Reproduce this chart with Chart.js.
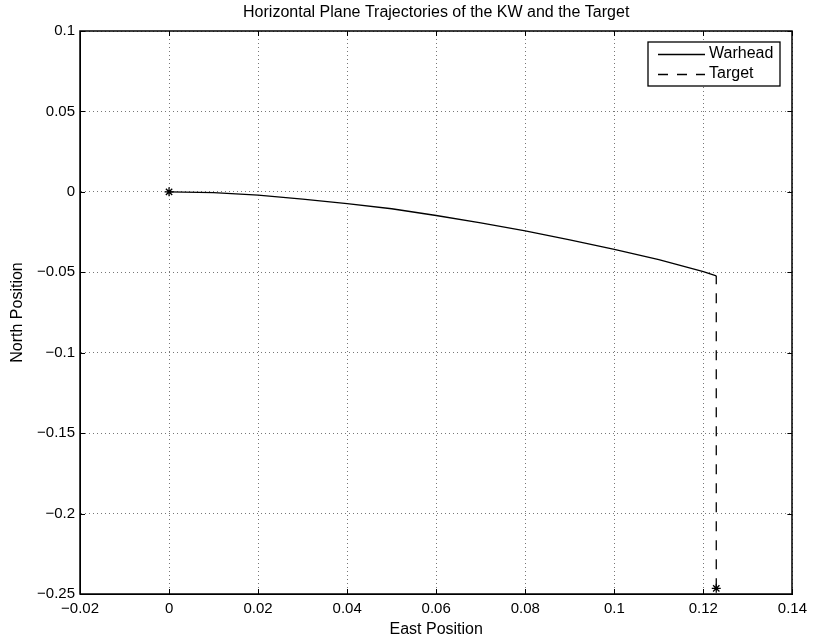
<!DOCTYPE html>
<html>
<head>
<meta charset="utf-8">
<script src="https://cdn.jsdelivr.net/npm/chart.js@4/dist/chart.umd.min.js"></script>
<style>
  html, body { margin: 0; padding: 0; background: #fff; }
  #wrap { width: 813px; height: 642px; }
</style>
</head>
<body>
<div id="wrap"><canvas id="traj"></canvas></div>
<script>
// warhead (KW) path in the horizontal plane
const eastWarhead = [0, 0.01, 0.02, 0.03, 0.04, 0.05, 0.06, 0.07, 0.08, 0.09, 0.10, 0.11, 0.12, 0.1229];
const northWarhead = [0, -0.0005, -0.002, -0.0045, -0.0073, -0.0105, -0.0147, -0.0193, -0.0243, -0.0298, -0.0357, -0.0422, -0.0496, -0.0522];
// target path
const eastTarget = [0.1229, 0.1229];
const northTarget = [-0.2465, -0.0522];

const xTicks = [-0.02, 0, 0.02, 0.04, 0.06, 0.08, 0.1, 0.12, 0.14];
const yTicks = [-0.25, -0.2, -0.15, -0.1, -0.05, 0, 0.05, 0.1];

const chartTitle = "Horizontal Plane Trajectories of the KW and the Target";
const FONT = "'Liberation Sans', Arial, Helvetica, sans-serif";

const toXY = (xs, ys) => xs.map((x, i) => ({ x: x, y: ys[i] }));
const fmt = v => String(Number(v.toFixed(4))).replace("-", "\u2212");

// box, inward ticks, title and legend drawn the MATLAB way
const axesDecor = {
  id: "axesDecor",
  afterDatasetsDraw(chart) {
    const { ctx, chartArea: a, scales } = chart;
    ctx.save();
    ctx.strokeStyle = "#000";
    ctx.lineWidth = 1.5;
    ctx.strokeRect(Math.round(a.left), Math.round(a.top),
      Math.round(a.right - a.left), Math.round(a.bottom - a.top));
    ctx.beginPath();
    ctx.lineWidth = 1;
    const len = 5;
    xTicks.forEach(v => {
      const px = Math.round(scales.x.getPixelForValue(v)) + 0.5;
      ctx.moveTo(px, a.bottom); ctx.lineTo(px, a.bottom - len);
      ctx.moveTo(px, a.top); ctx.lineTo(px, a.top + len);
    });
    yTicks.forEach(v => {
      const py = Math.round(scales.y.getPixelForValue(v)) + 0.5;
      ctx.moveTo(a.left, py); ctx.lineTo(a.left + len, py);
      ctx.moveTo(a.right, py); ctx.lineTo(a.right - len, py);
    });
    ctx.stroke();
    ctx.restore();
  },
  afterDraw(chart) {
    const { ctx, chartArea: a } = chart;
    ctx.save();
    ctx.fillStyle = "#000";
    ctx.font = "16px " + FONT;
    ctx.textAlign = "center";
    ctx.textBaseline = "middle";
    ctx.fillText(chartTitle, (a.left + a.right) / 2, 13);

    // legend box in the upper right corner
    const bx = 648, by = 42, bw = 132, bh = 44;
    ctx.fillStyle = "#fff";
    ctx.fillRect(bx, by, bw, bh);
    ctx.strokeStyle = "#000";
    ctx.lineWidth = 1.3;
    ctx.strokeRect(bx, by, bw, bh);
    ctx.textAlign = "left";
    chart.data.datasets.forEach((ds, i) => {
      const ly = 54 + i * 19.5;
      ctx.beginPath();
      ctx.setLineDash(ds.borderDash || []);
      ctx.lineWidth = ds.borderWidth;
      ctx.strokeStyle = ds.borderColor;
      ctx.moveTo(658, Math.round(ly) + 0.5);
      ctx.lineTo(705, Math.round(ly) + 0.5);
      ctx.stroke();
      ctx.setLineDash([]);
      ctx.fillStyle = "#000";
      ctx.fillText(ds.label, 709, ly);
    });
    ctx.restore();
  }
};

const starAtStart = c => (c.dataIndex === 0 ? 4.5 : 0);

new Chart(document.getElementById("traj"), {
  type: "scatter",
  data: {
    datasets: [
      {
        label: "Warhead",
        data: toXY(eastWarhead, northWarhead),
        showLine: true,
        borderColor: "#000",
        backgroundColor: "#000",
        borderWidth: 1.3,
        pointStyle: "star",
        pointRadius: starAtStart,
        pointBorderWidth: 1.3
      },
      {
        label: "Target",
        data: toXY(eastTarget, northTarget),
        showLine: true,
        borderColor: "#000",
        backgroundColor: "#000",
        borderWidth: 1.3,
        borderDash: [10, 9],
        pointStyle: "star",
        pointRadius: starAtStart,
        pointBorderWidth: 1.3
      }
    ]
  },
  options: {
    responsive: true,
    maintainAspectRatio: false,
    animation: false,
    layout: { padding: { top: 31, right: 17, left: 0, bottom: 0 } },
    plugins: {
      legend: { display: false },
      tooltip: { enabled: false }
    },
    scales: {
      x: {
        type: "linear",
        min: -0.02,
        max: 0.14,
        afterBuildTicks: s => { s.ticks = xTicks.map(v => ({ value: v })); },
        afterFit: s => { s.height = 48; },
        ticks: {
          color: "#000",
          padding: 6,
          maxRotation: 0,
          font: { family: FONT, size: 15 },
          callback: v => fmt(v)
        },
        grid: { color: "#777", lineWidth: 1, drawTicks: false },
        border: { display: true, color: "#000", dash: [1, 3] },
        title: {
          display: true,
          text: "East Position",
          color: "#000",
          font: { family: FONT, size: 16 },
          padding: { top: 0, bottom: 3 }
        }
      },
      y: {
        type: "linear",
        min: -0.25,
        max: 0.1,
        afterBuildTicks: s => { s.ticks = yTicks.map(v => ({ value: v })); },
        afterFit: s => { s.width = 80; },
        ticks: {
          color: "#000",
          padding: 5,
          font: { family: FONT, size: 15 },
          callback: v => fmt(v)
        },
        grid: { color: "#777", lineWidth: 1, drawTicks: false },
        border: { display: true, color: "#000", dash: [1, 3] },
        title: {
          display: true,
          text: "North Position",
          color: "#000",
          font: { family: FONT, size: 16 },
          padding: { top: 8, bottom: 0 }
        }
      }
    }
  },
  plugins: [axesDecor]
});
</script>
</body>
</html>
